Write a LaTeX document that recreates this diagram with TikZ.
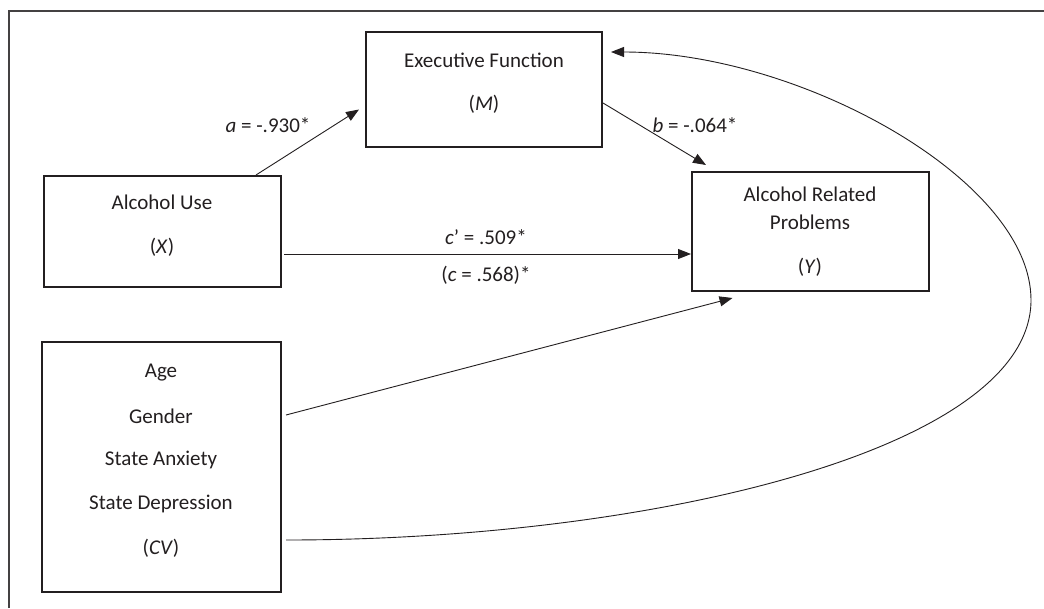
\documentclass[tikz,border=0pt]{standalone}
\usepackage{fontspec}
\setmainfont{Carlito}
\usetikzlibrary{arrows.meta}
\definecolor{ink}{HTML}{231F20}
\begin{document}
\begin{tikzpicture}[x=1pt,y=-1pt,
  box/.style={draw=ink,line width=2pt,inner sep=0pt},
  txt/.style={font=\fontsize{21}{25}\selectfont,text=ink,inner sep=0pt},
  conn/.style={draw=ink,line width=0.9pt,-{Triangle[length=13pt,width=10pt]}}]
\useasboundingbox (0,0) rectangle (1044,608);
\fill[white] (0,0) rectangle (1044,608);
\draw[ink!85,line width=1.3pt] (9,608) -- (9,11) -- (1044,11);

\node[box,minimum width=236pt,minimum height=115pt] (M) at (484,89.5) {};
\node[box,minimum width=237pt,minimum height=111pt] (X) at (162.5,231.5) {};
\node[box,minimum width=237pt,minimum height=119pt] (Y) at (810.5,231.5) {};
\node[box,minimum width=239pt,minimum height=250pt] (CV) at (161.5,467) {};

\node[txt] (tM1) at (484,60) {Executive Function};
\node[txt] (tM2) at (484,104) {(\textit{M})};
\node[txt] (tX1) at (162,202) {Alcohol Use};
\node[txt] (tX2) at (162,247) {(\textit{X})};
\node[txt] (tY1) at (810,194) {Alcohol Related};
\node[txt] (tY2) at (810,222) {Problems};
\node[txt] (tY3) at (810,267) {(\textit{Y})};
\node[txt] (tC1) at (161,373) {Age};
\node[txt] (tC2) at (161,416) {Gender};
\node[txt] (tC3) at (161,460) {State Anxiety};
\node[txt] (tC4) at (161,504) {State Depression};
\node[txt] (tC5) at (161,548) {(\textit{CV})};

\node[txt] (la) at (268,125) {\textit{a} = -.930*};
\node[txt] (lb) at (695,125) {\textit{b} = -.064*};
\node[txt] (lc1) at (486,237) {\textit{c}’ = .509*};
\node[txt] (lc2) at (486,275) {(\textit{c} = .568)*};

\draw[conn] ([xshift=-26pt]X.north east) -- ([xshift=-6pt,yshift=-20pt]M.west);
\draw[conn] ([yshift=-13.5pt]M.east) -- ([xshift=15pt,yshift=6pt]Y.north west);
\draw[conn] ([xshift=2pt,yshift=-22.5pt]X.east) -- ([yshift=-22.5pt]Y.west);
\draw[conn] ([xshift=4pt,yshift=52pt]CV.east) -- ([xshift=-78pt,yshift=-6pt]Y.south);
\draw[conn] ([xshift=4pt,yshift=-73pt]CV.east) .. controls (650,540) and (1031,450) .. (1031,300)
  .. controls (1031,180) and (800,52) .. ([xshift=8pt,yshift=37.5pt]M.east);
\end{tikzpicture}
\end{document}
